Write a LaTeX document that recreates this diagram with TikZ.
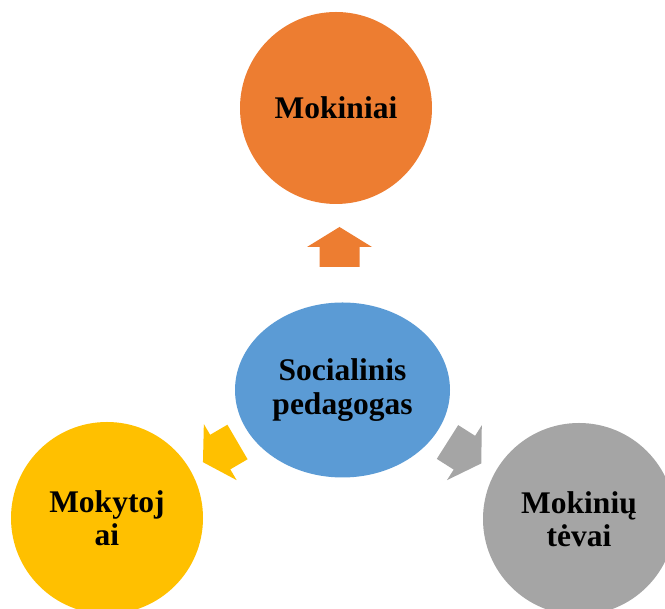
\documentclass[tikz,border=0pt]{standalone}
\usepackage{fontspec}
\setmainfont{Liberation Serif}
\usetikzlibrary{shapes.geometric}
\definecolor{cOrange}{HTML}{ED7D31}
\definecolor{cBlue}{HTML}{5B9BD5}
\definecolor{cYellow}{HTML}{FFC000}
\definecolor{cGray}{HTML}{A5A5A5}
\tikzset{
  bubble/.style={circle, minimum size=192pt, inner sep=0pt, align=center,
    font=\fontsize{31.5}{33.5}\selectfont\bfseries, text=black},
  hub/.style={ellipse, minimum width=215pt, minimum height=175pt, inner sep=0pt, align=center,
    font=\fontsize{31.5}{34}\selectfont\bfseries, text=black},
  blockarrow/.pic={
    \fill (0,-20) -- (20,-20) -- (20,-32.5) -- (40,0) -- (20,32.5) -- (20,20) -- (0,20) -- cycle;
  }
}
\begin{document}
\begin{tikzpicture}[x=1pt,y=1pt]
\useasboundingbox (0,0) rectangle (665,609);
\clip (0,0) rectangle (665,609);
\node[bubble, fill=cOrange] (stud) at (336,501) {Mokiniai};
\node[hub, fill=cBlue] (soc) at (342.5,219) {Socialinis\\pedagogas};
\node[bubble, fill=cYellow] (teach) at (107,91) {Mokytoj\\ai};
\node[bubble, fill=cGray] (par) at (579,90) {Mokinių\\tėvai};
\pic[fill=cOrange, rotate=90] at (339.5,342) {blockarrow};
\pic[fill=cYellow, rotate=210.3] at (237.5,167) {blockarrow};
\pic[fill=cGray, rotate=-32.4] at (447.5,167) {blockarrow};
\end{tikzpicture}
\end{document}
